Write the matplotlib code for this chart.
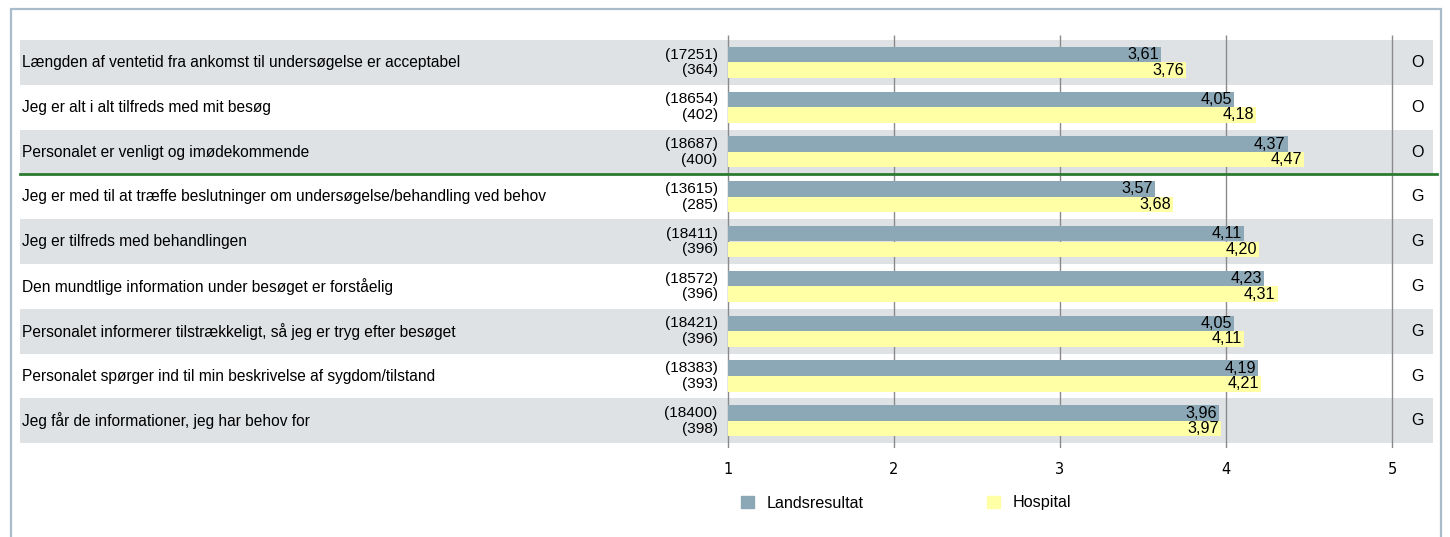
import matplotlib.pyplot as plt
from matplotlib.patches import Rectangle, Patch

# data
questions = [
    'Længden af ventetid fra ankomst til undersøgelse er acceptabel',
    'Jeg er alt i alt tilfreds med mit besøg',
    'Personalet er venligt og imødekommende',
    'Jeg er med til at træffe beslutninger om undersøgelse/behandling ved behov',
    'Jeg er tilfreds med behandlingen',
    'Den mundtlige information under besøget er forståelig',
    'Personalet informerer tilstrækkeligt, så jeg er tryg efter besøget',
    'Personalet spørger ind til min beskrivelse af sygdom/tilstand',
    'Jeg får de informationer, jeg har behov for',
]
lands = [3.61, 4.05, 4.37, 3.57, 4.11, 4.23, 4.05, 4.19, 3.96]
hospital = [3.76, 4.18, 4.47, 3.68, 4.20, 4.31, 4.11, 4.21, 3.97]
n_lands = [17251, 18654, 18687, 13615, 18411, 18572, 18421, 18383, 18400]
n_hosp = [364, 402, 400, 285, 396, 396, 396, 393, 398]
grade = ['O', 'O', 'O', 'G', 'G', 'G', 'G', 'G', 'G']
xticks = [1, 2, 3, 4, 5]

plt.rcParams['font.family'] = ['Liberation Sans', 'DejaVu Sans']

W, H = 1450, 537
fig = plt.figure(figsize=(W / 100, H / 100), dpi=100)
fig.patch.set_facecolor('white')

# outer frame
fig.patches.append(Rectangle((11 / W, -0.05), (1441 - 11) / W, 1.05 - 9 / H,
                             transform=fig.transFigure, fill=False,
                             edgecolor='#a9bccb', linewidth=1.6))

ax = fig.add_axes([20 / W, 1 - 448 / H, (1433 - 20) / W, (448 - 35) / H])
ax.set_xlim(-3.2594, 5.2450)
ax.set_ylim(9.105, -0.1116)
for s in ax.spines.values():
    s.set_visible(False)

grey = '#8ca7b5'
yellow = '#ffffa6'
n = len(questions)
rows = list(range(n))

# alternating row bands
for i in rows:
    if i % 2 == 0:
        ax.axhspan(i, i + 1, color='#dfe2e5', zorder=0, lw=0)

ax.vlines(xticks, 9.105, -0.1116, color='#8a8a8a', lw=1, zorder=1)

y1 = [i + 0.324 for i in rows]
y2 = [i + 0.672 for i in rows]
ax.barh(y1, [v - 1 for v in lands], left=1, height=0.345, color=grey, zorder=2)
ax.barh(y2, [v - 1 for v in hospital], left=1, height=0.345, color=yellow, zorder=2)

# separator line between groups
ax.axhline(3, xmin=0, xmax=1.003, color='#2b7a30', lw=2, zorder=3, clip_on=False)

for i in rows:
    ax.text(0.0015, i + 0.5, questions[i], transform=ax.get_yaxis_transform(),
            ha='left', va='center', fontsize=11.2)
    ax.text(0.94, y1[i], f'({n_lands[i]})', ha='right', va='center', fontsize=11.1)
    ax.text(0.94, y2[i], f'({n_hosp[i]})', ha='right', va='center', fontsize=11.1)
    ax.annotate(f'{lands[i]:.2f}'.replace('.', ','), (lands[i], y1[i]), xytext=(-1.5, 0),
                textcoords='offset points', ha='right', va='center', fontsize=11.6, zorder=4)
    ax.annotate(f'{hospital[i]:.2f}'.replace('.', ','), (hospital[i], y2[i]), xytext=(-1.5, 0),
                textcoords='offset points', ha='right', va='center', fontsize=11.6, zorder=4)
    ax.text(5.149, i + 0.5, grade[i], ha='center', va='center', fontsize=11.6)

ax.set_xticks(xticks)
ax.set_xticklabels([str(t) for t in xticks], family='DejaVu Sans', fontsize=10.5)
ax.tick_params(axis='x', length=0, pad=10)
ax.set_yticks([])

fig.legend(handles=[Patch(color=grey), Patch(color=yellow)], labels=['Landsresultat', 'Hospital'],
           loc='center left', bbox_to_anchor=(741 / W, 1 - 503 / H), ncol=2, frameon=False,
           fontsize=11.6, handlelength=0.81, handleheight=0.81, handletextpad=0.81,
           columnspacing=7.6, borderpad=0, borderaxespad=0)

fig.savefig('out.png', dpi=100)
